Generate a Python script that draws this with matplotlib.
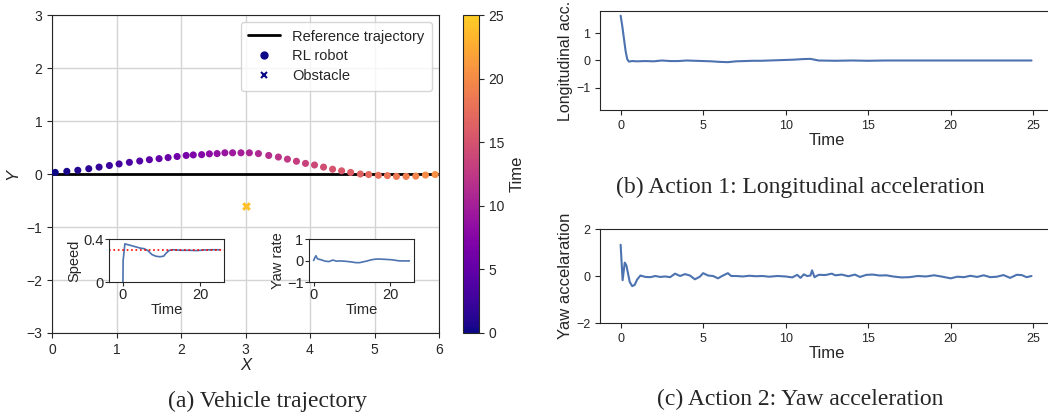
import numpy as np
import matplotlib
matplotlib.use("Agg")
import matplotlib.pyplot as plt
import seaborn as sns
from matplotlib.lines import Line2D
from matplotlib.colors import ListedColormap

sns.set_style("ticks")
plt.rcParams['font.family'] = ['Liberation Sans', 'DejaVu Sans']

# Trajectory of the RL robot (x, y), one sample every 0.5 s
traj_x = [0.05, 0.23, 0.40, 0.57, 0.73, 0.89, 1.04, 1.20, 1.36, 1.51, 1.66, 1.80, 1.94, 2.08,
          2.19, 2.32, 2.44, 2.56, 2.68, 2.80, 2.93, 3.06, 3.20, 3.36, 3.51, 3.65, 3.79, 3.93,
          4.07, 4.21, 4.35, 4.49, 4.63, 4.78, 4.91, 5.06, 5.20, 5.34, 5.49, 5.64, 5.79, 5.94]
traj_y = [0.03, 0.05, 0.07, 0.10, 0.13, 0.16, 0.19, 0.22, 0.245, 0.27, 0.29, 0.31, 0.33, 0.35,
          0.36, 0.365, 0.38, 0.385, 0.40, 0.40, 0.40, 0.40, 0.385, 0.35, 0.32, 0.28, 0.24, 0.20,
          0.17, 0.13, 0.09, 0.06, 0.03, 0.00, -0.01, -0.025, -0.03, -0.045, -0.045, -0.04, -0.02, -0.01]
traj_t = [0.0, 0.5, 1.0, 1.5, 2.0, 2.5, 3.0, 3.5, 4.0, 4.5, 5.0, 5.5, 6.0, 6.5,
          7.0, 7.5, 8.0, 8.5, 9.0, 9.5, 10.0, 10.5, 11.0, 11.5, 12.0, 12.5, 13.0, 13.5,
          14.0, 14.5, 15.0, 15.5, 16.0, 16.5, 17.0, 17.5, 18.0, 18.5, 19.0, 19.5, 20.0, 20.5]
ref_x = [0, 6]
ref_y = [0, 0]
obs_x, obs_y, obs_t = [3.0], [-0.6], [24.0]

# Inset: speed and yaw rate
speed_t = [0.0, 0.05, 0.5, 1.5, 2.5, 3.5, 4.5, 5.5, 6.5, 7.5, 8.5, 9.5, 10.5, 11.2, 12.0,
           13.0, 15.0, 17.0, 19.0, 21.0, 23.0, 25.0]
speed = [0.0, 0.2, 0.355, 0.345, 0.335, 0.325, 0.315, 0.31, 0.29, 0.255, 0.24, 0.235, 0.24,
         0.27, 0.295, 0.3, 0.295, 0.295, 0.292, 0.298, 0.3, 0.3]
speed_ref = 0.3
yawrate_t = [0, 0.3, 0.6, 1.0, 2, 3, 4, 5, 6, 7, 8, 9, 10, 11, 12, 13, 14, 15, 16, 17, 18,
             19, 20, 21, 22, 23, 24, 25]
yawrate = [0.0, 0.12, 0.22, 0.08, 0.03, -0.03, -0.05, 0.02, -0.03, -0.02, -0.03, -0.05, -0.07,
           -0.1, -0.1, -0.06, -0.02, 0.03, 0.06, 0.07, 0.06, 0.05, 0.04, 0.02, -0.01, -0.02,
           -0.02, -0.02]

# Action 1: longitudinal acceleration
lon_t = [0, 0.1, 0.2, 0.3, 0.4, 0.5, 0.7, 1.0, 1.5, 2.0, 2.5, 3.0, 3.5, 4.0, 4.5, 5.0, 5.5,
         6.0, 6.5, 7.0, 7.5, 8.0, 8.5, 9.0, 9.5, 10.0, 10.5, 11.0, 11.5, 12.0, 13.0, 14.0,
         15.0, 16.0, 17.0, 18.0, 19.0, 20.0, 21.0, 22.0, 23.0, 24.0, 24.9]
lon_acc = [1.63, 1.25, 0.8, 0.35, 0.05, -0.04, -0.02, -0.03, -0.02, -0.03, 0.0, -0.02, -0.02,
           0.0, -0.01, -0.02, -0.03, -0.05, -0.06, -0.03, -0.02, -0.01, -0.01, 0.0, 0.01, 0.02,
           0.03, 0.05, 0.06, 0.0, -0.01, 0.0, -0.01, 0.0, 0.0, 0.0, 0.0, 0.0, 0.0, 0.0, 0.0,
           0.0, 0.0]

# Action 2: yaw acceleration
yaw_t = [0.0, 0.12, 0.25, 0.35, 0.45, 0.55, 0.7, 0.85, 1.0, 1.2, 1.5, 1.8, 2.1, 2.4, 2.7,
         3.0, 3.3, 3.6, 3.9, 4.2, 4.5, 4.8, 5.0, 5.3, 5.6, 5.9, 6.2, 6.5, 6.7, 7.0, 7.4, 7.8,
         8.2, 8.6, 9.0, 9.5, 10.0, 10.4, 10.7, 10.9, 11.1, 11.3, 11.5, 11.6, 11.75, 12.0,
         12.4, 12.8, 13.0, 13.4, 13.8, 14.2, 14.5, 14.9, 15.3, 15.7, 16.1, 16.5, 17.0, 17.5,
         18.0, 18.5, 19.0, 19.5, 20.0, 20.4, 20.8, 21.2, 21.6, 22.0, 22.4, 22.8, 23.2, 23.6,
         24.0, 24.3, 24.6, 24.9]
yaw_acc = [1.33, -0.18, 0.57, 0.45, 0.1, -0.25, -0.43, -0.38, -0.15, 0.02, -0.04, -0.05, 0.0,
           -0.04, -0.02, -0.05, 0.1, 0.0, 0.08, 0.02, -0.14, -0.03, 0.12, 0.02, 0.0, -0.1,
           0.02, 0.12, 0.0, 0.0, -0.02, 0.01, -0.01, 0.0, -0.03, 0.0, -0.02, -0.06, 0.05,
           -0.08, 0.07, 0.0, 0.02, 0.24, -0.05, 0.05, 0.04, 0.1, 0.03, 0.06, -0.01, 0.06,
           -0.04, 0.05, 0.06, 0.02, 0.03, -0.02, -0.06, -0.05, 0.0, -0.02, 0.03, -0.03, -0.1,
           -0.03, -0.05, 0.01, -0.04, 0.03, -0.05, -0.03, 0.04, -0.08, 0.05, 0.04, -0.05, 0.0]

W, H = 1048, 419
blue = "#4c72b0"
cmap = ListedColormap(plt.cm.plasma(np.linspace(0, 0.9, 256)))


def box(x0, y0, x1, y1):
    # pixel box (top-left origin) -> figure fraction
    return [x0 / W, 1 - y1 / H, (x1 - x0) / W, (y1 - y0) / H]


fig = plt.figure(figsize=(W / 100, H / 100), dpi=100)

# ---- (a) vehicle trajectory
ax = fig.add_axes(box(52, 15, 439, 333))
ax.grid(True, color="#d4d4d4", lw=1)
ax.plot(ref_x, ref_y, color="black", lw=2, zorder=2)
sc = ax.scatter(traj_x, traj_y, c=traj_t, cmap=cmap, vmin=0, vmax=25, s=26, zorder=3,
                linewidths=0)
ax.scatter(obs_x, obs_y, c=obs_t, cmap=cmap, vmin=0, vmax=25, marker="X", s=40, zorder=3,
           linewidths=0)
ax.set_xlim(0, 6)
ax.set_ylim(-3, 3)
ax.set_xticks(range(0, 7))
ax.set_yticks(range(-3, 4))
ax.tick_params(labelsize=10)
ax.set_xlabel("X", fontsize=12, fontstyle="italic", labelpad=1)
ax.set_ylabel("Y", fontsize=12, fontstyle="italic")
handles = [Line2D([], [], color="black", lw=2),
           Line2D([], [], ls="", marker="o", color="#0d0887", markersize=5),
           Line2D([], [], ls="", marker="x", color="#0d0887", markersize=5, mew=1.5)]
ax.legend(handles, ["Reference trajectory", "RL robot", "Obstacle"], loc="upper right",
          fontsize=10.5, handlelength=2.2, borderpad=0.5, labelspacing=0.4)

cax = fig.add_axes(box(463, 15, 479, 333))
cb = fig.colorbar(sc, cax=cax)
cb.set_label("Time", fontsize=12)
cb.set_ticks([0, 5, 10, 15, 20, 25])
cb.ax.tick_params(labelsize=10)
cb.outline.set_linewidth(0.8)

ins1 = fig.add_axes(box(109, 239, 224, 282))
ins1.plot(speed_t, speed, color=blue, lw=1.2)
ins1.axhline(speed_ref, color="red", ls=":", lw=1.2)
ins1.set_xlim(-3.6, 26.1)
ins1.set_ylim(0, 0.4)
ins1.set_yticks([0, 0.4])
ins1.set_yticklabels(["0", "0.4"])
ins1.set_xticks([0, 20])
ins1.set_xlabel("Time", fontsize=10.5, labelpad=1)
ins1.set_ylabel("Speed", fontsize=10.5, labelpad=1)
ins1.tick_params(labelsize=10.5, pad=1, length=3)

ins2 = fig.add_axes(box(309, 239, 414, 282))
ins2.plot(yawrate_t, yawrate, color=blue, lw=1.2)
ins2.set_xlim(-1.2, 26.2)
ins2.set_ylim(-1, 1)
ins2.set_yticks([-1, 0, 1])
ins2.set_xticks([0, 20])
ins2.set_xlabel("Time", fontsize=10.5, labelpad=1)
ins2.set_ylabel("Yaw rate", fontsize=10.5, labelpad=1)
ins2.tick_params(labelsize=10.5, pad=1, length=3)

# ---- (b) longitudinal acceleration
axb = fig.add_axes(box(600, 11, 1053, 110))
axb.plot(lon_t, lon_acc, color=blue, lw=1.5)
axb.set_xlim(-1.25, 26.2)
axb.set_ylim(-1.8, 1.8)
axb.set_yticks([-1, 0, 1])
axb.set_xticks([0, 5, 10, 15, 20, 25])
axb.set_xlabel("Time", fontsize=12, labelpad=1)
axb.set_ylabel("Longitudinal acc.", fontsize=11.5, labelpad=2)
axb.tick_params(labelsize=9)

# ---- (c) yaw acceleration
axc = fig.add_axes(box(600, 229, 1053, 323))
axc.plot(yaw_t, yaw_acc, color=blue, lw=1.5)
axc.set_xlim(-1.25, 26.2)
axc.set_ylim(-2, 2)
axc.set_yticks([-2, 0, 2])
axc.set_xticks([0, 5, 10, 15, 20, 25])
axc.set_xlabel("Time", fontsize=12, labelpad=1)
axc.set_ylabel("Yaw accelaration", fontsize=12, labelpad=2)
axc.tick_params(labelsize=9)

serif = ["Liberation Serif", "DejaVu Serif"]
fig.text(268 / W, 1 - 401 / H, "(a) Vehicle trajectory", ha="center", va="center",
         fontsize=17, family=serif)
fig.text(800 / W, 1 - 187 / H, "(b) Action 1: Longitudinal acceleration", ha="center",
         va="center", fontsize=17, family=serif)
fig.text(800 / W, 1 - 399 / H, "(c) Action 2: Yaw acceleration", ha="center", va="center",
         fontsize=17, family=serif)

fig.savefig("out.png", dpi=100)
